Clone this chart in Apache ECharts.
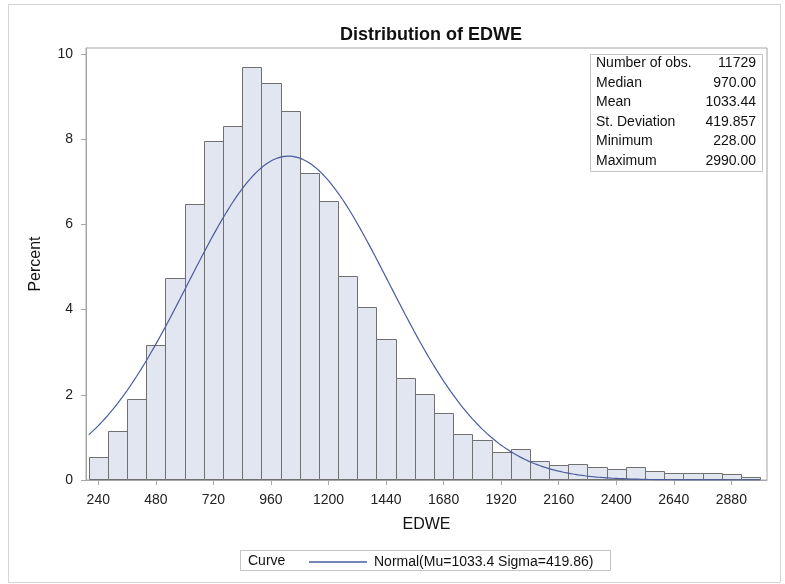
<!DOCTYPE html>
<html>
<head>
<meta charset="utf-8">
<script src="https://cdn.jsdelivr.net/npm/echarts@6/dist/echarts.min.js"></script>
<style>
  html, body { margin: 0; padding: 0; background: #fff; }
  #chart { width: 785px; height: 584px; }
</style>
</head>
<body>
<div id="chart"></div>
<script>
// Histogram bins of EDWE (midpoints, bin width 80) and percent of observations
const binWidth = 80;
const binMidpoints = [240, 320, 400, 480, 560, 640, 720, 800, 880, 960,
  1040, 1120, 1200, 1280, 1360, 1440, 1520, 1600, 1680, 1760,
  1840, 1920, 2000, 2080, 2160, 2240, 2320, 2400, 2480, 2560,
  2640, 2720, 2800, 2880, 2960];
const binPercents = [0.55, 1.16, 1.91, 3.17, 4.75, 6.47, 7.95, 8.30, 9.70, 9.32,
  8.65, 7.20, 6.56, 4.80, 4.07, 3.32, 2.40, 2.03, 1.57, 1.07,
  0.93, 0.65, 0.72, 0.45, 0.35, 0.38, 0.30, 0.26, 0.30, 0.20,
  0.16, 0.16, 0.16, 0.15, 0.07];

// Axis tick values
const xTickValues = [240, 480, 720, 960, 1200, 1440, 1680, 1920, 2160, 2400, 2640, 2880];
const yTickValues = [0, 2, 4, 6, 8, 10];

// Summary statistics
const statNames = ['Number of obs.', 'Median', 'Mean', 'St. Deviation', 'Minimum', 'Maximum'];
const statValues = ['11729', '970.00', '1033.44', '419.857', '228.00', '2990.00'];

// Fitted normal distribution
const normalMu = 1033.44;
const normalSigma = 419.857;
const curveRange = [200, 3000];

// Normal density scaled to percent per bin
function normalPercent(x) {
  const z = (x - normalMu) / normalSigma;
  return 100 * binWidth * Math.exp(-0.5 * z * z) / (normalSigma * Math.sqrt(2 * Math.PI));
}
const curvePoints = [];
for (let x = curveRange[0]; x <= curveRange[1]; x += 10) {
  curvePoints.push([x, normalPercent(x)]);
}

const curveName = 'Normal(Mu=' + normalMu.toFixed(1) + ' Sigma=' + normalSigma.toFixed(2) + ')';
const FONT = '"Liberation Sans", Arial, sans-serif';
const CURVE_COLOR = '#4a5b9e';

const chart = echarts.init(document.getElementById('chart'), null, { renderer: 'canvas' });

// Summary table elements
const tableRowY0 = 63.5, tableRowStep = 19.5;
const tableChildren = [{
  type: 'rect',
  shape: { x: 590.5, y: 54.5, width: 172, height: 117 },
  style: { fill: '#fff', stroke: '#c4c4c4', lineWidth: 1 }
}];
statNames.forEach((name, i) => {
  tableChildren.push({
    type: 'text', x: 596, y: tableRowY0 + i * tableRowStep,
    style: { text: name, font: '14px ' + FONT, fill: '#111', textVerticalAlign: 'middle', textAlign: 'left' }
  });
  tableChildren.push({
    type: 'text', x: 756, y: tableRowY0 + i * tableRowStep,
    style: { text: statValues[i], font: '14px ' + FONT, fill: '#111', textVerticalAlign: 'middle', textAlign: 'right' }
  });
});

chart.setOption({
  animation: false,
  backgroundColor: '#fff',
  title: {
    text: 'Distribution of EDWE',
    left: 426, top: 21, textAlign: 'center',
    textStyle: { fontFamily: FONT, fontSize: 18, fontWeight: 'bold', color: '#111' }
  },
  grid: {
    left: 86, right: 18, top: 48, bottom: 104,
    show: true, borderColor: '#a6a6a6', borderWidth: 1, backgroundColor: 'transparent'
  },
  legend: {
    left: 304, top: 550,
    itemWidth: 58, itemHeight: 1.3, itemGap: 10,
    textStyle: { fontFamily: FONT, fontSize: 14, color: '#111', padding: [0, 0, 0, 2] },
    data: [{ name: curveName, icon: 'rect', itemStyle: { color: CURVE_COLOR } }]
  },
  xAxis: {
    type: 'value', min: 188.7, max: 3028.6,
    name: 'EDWE', nameLocation: 'middle', nameGap: 37,
    nameTextStyle: { fontFamily: FONT, fontSize: 16, color: '#111' },
    axisLine: { show: true, onZero: false, lineStyle: { color: '#a6a6a6' } },
    axisTick: { show: true, length: 5, customValues: xTickValues, lineStyle: { color: '#a6a6a6' } },
    axisLabel: { customValues: xTickValues, margin: 13, fontFamily: FONT, fontSize: 14, color: '#222',
      formatter: v => String(v) },
    splitLine: { show: false }
  },
  yAxis: {
    type: 'value', min: 0, max: 10.14,
    name: 'Percent', nameLocation: 'middle', nameGap: 50, nameRotate: 90,
    nameTextStyle: { fontFamily: FONT, fontSize: 16, color: '#111', verticalAlign: 'middle' },
    axisLine: { show: true, lineStyle: { color: '#a6a6a6' } },
    axisTick: { show: true, length: 5, customValues: yTickValues, lineStyle: { color: '#a6a6a6' } },
    axisLabel: { customValues: yTickValues, margin: 13, fontFamily: FONT, fontSize: 14, color: '#222',
      formatter: v => String(v) },
    splitLine: { show: false }
  },
  graphic: [
    {
      type: 'rect', silent: true,
      shape: { x: 8.5, y: 4.5, width: 772, height: 578 },
      style: { fill: 'none', stroke: '#d4d4d4', lineWidth: 1 }
    },
    { type: 'group', children: tableChildren },
    {
      type: 'rect', silent: true,
      shape: { x: 240.5, y: 550.5, width: 370, height: 20 },
      style: { fill: 'none', stroke: '#c4c4c4', lineWidth: 1 }
    },
    {
      type: 'text', x: 248, y: 561,
      style: { text: 'Curve', font: '14px ' + FONT, fill: '#111', textVerticalAlign: 'middle' }
    }
  ],
  series: [
    {
      type: 'custom',
      name: 'Histogram',
      data: binMidpoints.map((m, i) => [m, binPercents[i]]),
      encode: { x: 0, y: 1 },
      renderItem: function (params, api) {
        const mid = api.value(0), pct = api.value(1);
        const topLeft = api.coord([mid - binWidth / 2, pct]);
        const bottomRight = api.coord([mid + binWidth / 2, 0]);
        const x0 = Math.round(topLeft[0]) + 0.5;
        const x1 = Math.round(bottomRight[0]) + 0.5;
        const y0 = Math.round(topLeft[1]) + 0.5;
        const y1 = Math.round(bottomRight[1]) - 0.5;
        return {
          type: 'rect',
          shape: { x: x0, y: y0, width: x1 - x0, height: y1 - y0 },
          style: { fill: '#e2e6f0', stroke: '#707070', lineWidth: 1 }
        };
      },
      z: 2
    },
    {
      type: 'line',
      name: curveName,
      data: curvePoints,
      showSymbol: false,
      symbol: 'none',
      lineStyle: { color: CURVE_COLOR, width: 1.2 },
      itemStyle: { color: CURVE_COLOR },
      z: 3
    }
  ]
});
</script>
</body>
</html>
